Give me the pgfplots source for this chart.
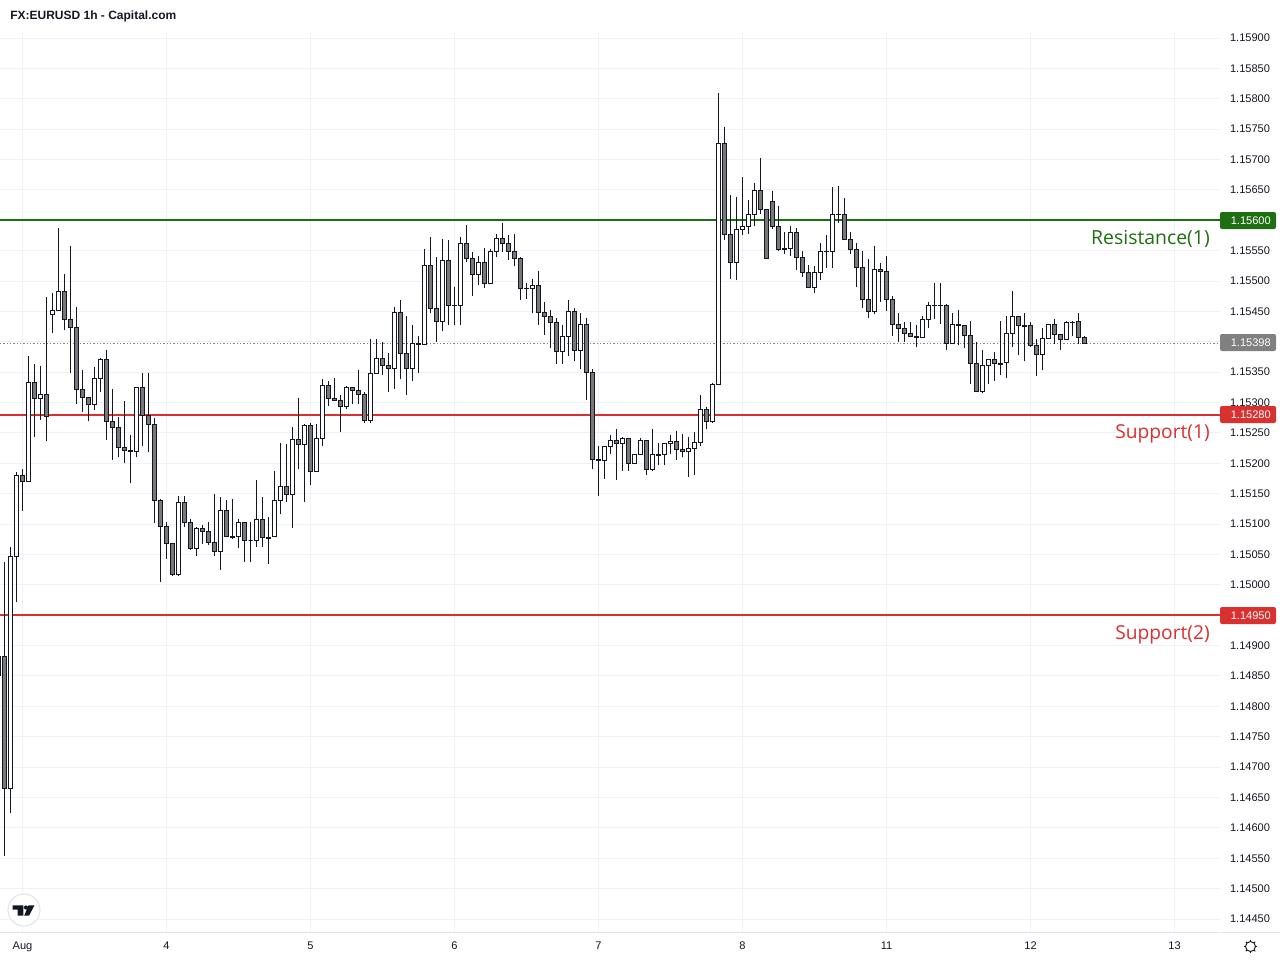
\documentclass[border=0pt]{standalone}
\usepackage{fontspec}
\setmainfont{Liberation Sans}
\newfontfamily\labelfont{Open Sans}
\usepackage{pgfplots}
\usepackage{pgfplotstable}
\pgfplotsset{compat=1.18}
\definecolor{ink}{HTML}{131722}
\definecolor{candleDown}{HTML}{787878}
\definecolor{gridc}{HTML}{F0F1F4}
\definecolor{spine}{HTML}{E0E3EB}
\definecolor{resG}{HTML}{1E6F12}
\definecolor{supR}{HTML}{D93030}
\definecolor{lastG}{HTML}{808080}
\pgfplotstableread{
x o h l c
-1 1.14882 1.14882 1.14851 1.14851
0 1.14882 1.15037 1.14553 1.14665
1 1.14665 1.15063 1.14624 1.15047
2 1.15047 1.15185 1.14971 1.15180
3 1.15180 1.15190 1.15122 1.15170
4 1.15170 1.15376 1.15170 1.15333
5 1.15333 1.15363 1.15243 1.15307
6 1.15307 1.15361 1.15272 1.15313
7 1.15313 1.15473 1.15236 1.15277
8 1.15445 1.15481 1.15414 1.15452
9 1.15452 1.15588 1.15452 1.15483
10 1.15483 1.15511 1.15420 1.15437
11 1.15437 1.15558 1.15349 1.15423
12 1.15423 1.15458 1.15298 1.15322
13 1.15322 1.15353 1.15284 1.15308
14 1.15308 1.15308 1.15269 1.15297
15 1.15297 1.15359 1.15288 1.15340
16 1.15340 1.15374 1.15317 1.15371
17 1.15371 1.15387 1.15238 1.15269
18 1.15269 1.15322 1.15206 1.15259
19 1.15259 1.15277 1.15210 1.15226
20 1.15226 1.15302 1.15200 1.15221
21 1.15221 1.15246 1.15167 1.15219
22 1.15219 1.15325 1.15210 1.15325
23 1.15325 1.15349 1.15228 1.15279
24 1.15279 1.15349 1.15218 1.15264
25 1.15264 1.15274 1.15101 1.15139
26 1.15139 1.15142 1.15004 1.15096
27 1.15096 1.15104 1.15043 1.15068
28 1.15068 1.15068 1.15015 1.15017
29 1.15017 1.15147 1.15015 1.15136
30 1.15136 1.15147 1.15096 1.15103
31 1.15103 1.15108 1.15058 1.15060
32 1.15060 1.15096 1.15048 1.15093
33 1.15093 1.15099 1.15068 1.15088
34 1.15088 1.15103 1.15066 1.15070
35 1.15070 1.15149 1.15048 1.15055
36 1.15055 1.15144 1.15024 1.15122
37 1.15122 1.15139 1.15078 1.15079
38 1.15079 1.15141 1.15076 1.15078
39 1.15079 1.15109 1.15060 1.15103
40 1.15103 1.15104 1.15037 1.15073
41 1.15073 1.15103 1.15037 1.15073
42 1.15073 1.15172 1.15063 1.15108
43 1.15108 1.15144 1.15063 1.15078
44 1.15078 1.15111 1.15034 1.15077
45 1.15079 1.15187 1.15078 1.15139
46 1.15139 1.15233 1.15116 1.15162
47 1.15162 1.15231 1.15136 1.15149
48 1.15149 1.15259 1.15093 1.15239
49 1.15239 1.15307 1.15190 1.15231
50 1.15231 1.15264 1.15136 1.15262
51 1.15262 1.15266 1.15165 1.15187
52 1.15187 1.15264 1.15187 1.15241
53 1.15241 1.15338 1.15228 1.15328
54 1.15328 1.15335 1.15295 1.15307
55 1.15307 1.15340 1.15303 1.15303
56 1.15303 1.15312 1.15251 1.15293
57 1.15293 1.15328 1.15290 1.15325
58 1.15325 1.15325 1.15298 1.15320
59 1.15320 1.15354 1.15297 1.15313
60 1.15313 1.15317 1.15267 1.15270
61 1.15270 1.15404 1.15266 1.15348
62 1.15348 1.15404 1.15348 1.15372
63 1.15372 1.15400 1.15346 1.15361
64 1.15361 1.15381 1.15317 1.15356
65 1.15356 1.15458 1.15323 1.15448
66 1.15448 1.15468 1.15338 1.15381
67 1.15381 1.15443 1.15312 1.15356
68 1.15356 1.15427 1.15335 1.15397
69 1.15397 1.15409 1.15349 1.15396
70 1.15396 1.15552 1.15396 1.15526
71 1.15526 1.15572 1.15447 1.15455
72 1.15455 1.15539 1.15400 1.15433
73 1.15433 1.15570 1.15417 1.15534
74 1.15534 1.15567 1.15427 1.15460
75 1.15460 1.15491 1.15427 1.15459
76 1.15460 1.15572 1.15427 1.15562
77 1.15562 1.15593 1.15532 1.15537
78 1.15537 1.15547 1.15475 1.15511
79 1.15511 1.15542 1.15494 1.15530
80 1.15530 1.15554 1.15488 1.15496
81 1.15496 1.15552 1.15496 1.15549
82 1.15549 1.15577 1.15540 1.15570
83 1.15570 1.15596 1.15547 1.15562
84 1.15562 1.15575 1.15535 1.15549
85 1.15549 1.15578 1.15524 1.15537
86 1.15537 1.15539 1.15468 1.15488
87 1.15488 1.15496 1.15470 1.15487
88 1.15488 1.15503 1.15447 1.15493
89 1.15493 1.15516 1.15428 1.15448
90 1.15448 1.15466 1.15412 1.15442
91 1.15442 1.15452 1.15389 1.15432
92 1.15432 1.15440 1.15364 1.15384
93 1.15384 1.15427 1.15364 1.15409
94 1.15409 1.15468 1.15377 1.15450
95 1.15450 1.15455 1.15368 1.15386
96 1.15386 1.15447 1.15356 1.15428
97 1.15428 1.15440 1.15305 1.15349
98 1.15349 1.15356 1.15191 1.15206
99 1.15206 1.15228 1.15147 1.15205
100 1.15205 1.15228 1.15175 1.15228
101 1.15228 1.15247 1.15216 1.15238
102 1.15238 1.15257 1.15173 1.15233
103 1.15233 1.15244 1.15187 1.15241
104 1.15241 1.15241 1.15187 1.15200
105 1.15200 1.15214 1.15200 1.15214
106 1.15214 1.15241 1.15214 1.15238
107 1.15238 1.15239 1.15180 1.15190
108 1.15190 1.15256 1.15187 1.15214
109 1.15214 1.15233 1.15198 1.15213
110 1.15214 1.15233 1.15198 1.15233
111 1.15233 1.15246 1.15216 1.15236
112 1.15236 1.15254 1.15206 1.15223
113 1.15223 1.15249 1.15210 1.15219
114 1.15219 1.15243 1.15177 1.15224
115 1.15224 1.15252 1.15180 1.15234
116 1.15234 1.15312 1.15228 1.15288
117 1.15288 1.15292 1.15256 1.15269
118 1.15269 1.15333 1.15266 1.15330
119 1.15330 1.15809 1.15330 1.15726
120 1.15726 1.15753 1.15567 1.15577
121 1.15577 1.15641 1.15504 1.15530
122 1.15530 1.15638 1.15501 1.15585
123 1.15585 1.15672 1.15575 1.15590
124 1.15590 1.15634 1.15577 1.15610
125 1.15610 1.15661 1.15591 1.15649
126 1.15649 1.15702 1.15611 1.15618
127 1.15618 1.15618 1.15537 1.15537
128 1.15631 1.15649 1.15586 1.15590
129 1.15590 1.15623 1.15550 1.15552
130 1.15554 1.15581 1.15544 1.15552
131 1.15554 1.15590 1.15542 1.15580
132 1.15580 1.15588 1.15519 1.15539
133 1.15539 1.15549 1.15507 1.15514
134 1.15514 1.15527 1.15489 1.15489
135 1.15489 1.15524 1.15481 1.15514
136 1.15514 1.15562 1.15501 1.15549
137 1.15549 1.15575 1.15522 1.15548
138 1.15549 1.15654 1.15521 1.15610
139 1.15610 1.15656 1.15596 1.15609
140 1.15610 1.15636 1.15568 1.15568
141 1.15568 1.15580 1.15545 1.15552
142 1.15552 1.15563 1.15491 1.15522
143 1.15522 1.15550 1.15455 1.15470
144 1.15470 1.15537 1.15440 1.15450
145 1.15450 1.15557 1.15445 1.15519
146 1.15519 1.15530 1.15465 1.15516
147 1.15516 1.15542 1.15450 1.15470
148 1.15470 1.15475 1.15410 1.15428
149 1.15428 1.15447 1.15400 1.15422
150 1.15422 1.15432 1.15400 1.15414
151 1.15414 1.15432 1.15409 1.15409
152 1.15409 1.15427 1.15391 1.15407
153 1.15407 1.15442 1.15407 1.15437
154 1.15437 1.15465 1.15422 1.15460
155 1.15460 1.15496 1.15437 1.15459
156 1.15460 1.15496 1.15430 1.15459
157 1.15460 1.15463 1.15387 1.15397
158 1.15397 1.15448 1.15397 1.15428
159 1.15428 1.15452 1.15394 1.15427
160 1.15427 1.15428 1.15389 1.15410
161 1.15410 1.15435 1.15330 1.15364
162 1.15364 1.15400 1.15318 1.15318
163 1.15318 1.15386 1.15315 1.15361
164 1.15361 1.15372 1.15331 1.15371
165 1.15371 1.15384 1.15336 1.15364
166 1.15364 1.15435 1.15346 1.15363
167 1.15366 1.15442 1.15340 1.15414
168 1.15414 1.15484 1.15392 1.15442
169 1.15442 1.15442 1.15379 1.15427
170 1.15427 1.15447 1.15368 1.15426
171 1.15427 1.15432 1.15392 1.15394
172 1.15394 1.15405 1.15344 1.15379
173 1.15379 1.15422 1.15354 1.15405
174 1.15405 1.15428 1.15405 1.15428
175 1.15428 1.15437 1.15396 1.15412
176 1.15412 1.15412 1.15387 1.15404
177 1.15404 1.15435 1.15404 1.15432
178 1.15432 1.15435 1.15410 1.15431
179 1.15433 1.15447 1.15397 1.15407
180 1.15407 1.15409 1.15397 1.15398
}\ohlc
\begin{document}
\begin{tikzpicture}[x=0.75pt,y=-0.75pt]
\useasboundingbox (0,0) rectangle (1280,960);
\coordinate (AO) at (0,932);
\begin{axis}[
  at={(AO)}, anchor=south west,
  scale only axis, width=915pt, height=675pt,
  xmin=-0.75, xmax=202.5833,
  ymin=1.144286, ymax=1.159099,
  axis x line*=bottom, axis y line*=right,
  x axis line style={draw=spine, line width=0.75pt},
  y axis line style={draw=none},
  xtick={3,27,51,75,99,123,147,171,195},
  xticklabels={Aug,4,5,6,7,8,11,12,13},
  ytick={1.1445,1.145,1.1455,1.146,1.1465,1.147,1.1475,1.148,1.1485,1.149,1.15,1.1505,1.151,1.1515,1.152,1.1525,1.153,1.1535,1.1545,1.155,1.1555,1.1565,1.157,1.1575,1.158,1.1585,1.159},
  extra y ticks={1.1495,1.154,1.156},
  extra y tick labels={},
  scaled y ticks=false,
  major tick length=0pt,
  tick style={draw=none},
  grid=major, major grid style={draw=gridc, line width=0.75pt},
  extra tick style={grid=major, major grid style={draw=gridc, line width=0.75pt}},
  /pgf/number format/fixed,
  /pgf/number format/fixed zerofill,
  /pgf/number format/precision=5,
  /pgf/number format/assume math mode=true,
  /pgf/number format/1000 sep={},
  ticklabel style={font=\fontsize{8.3}{10}\selectfont, text=ink},
  yticklabel style={anchor=west, xshift=4pt},
  xticklabel style={yshift=-3.5pt},
]
\addplot[draw=lastG, line width=0.75pt, dash pattern=on 1pt off 1.5pt, mark=none] coordinates {(-0.75,1.15398)(202.5833,1.15398)};
\addplot[draw=resG, line width=1.35pt, mark=none] coordinates {(-0.75,1.156)(202.5833,1.156)};
\addplot[draw=supR, line width=1.35pt, mark=none] coordinates {(-0.75,1.1528)(202.5833,1.1528)};
\addplot[draw=supR, line width=1.35pt, mark=none] coordinates {(-0.75,1.1495)(202.5833,1.1495)};
\pgfplotsinvokeforeach{0,...,181}{
  \pgfplotstablegetelem{#1}{x}\of\ohlc \let\cx\pgfplotsretval
  \pgfplotstablegetelem{#1}{o}\of\ohlc \let\co\pgfplotsretval
  \pgfplotstablegetelem{#1}{h}\of\ohlc \let\ch\pgfplotsretval
  \pgfplotstablegetelem{#1}{l}\of\ohlc \let\cl\pgfplotsretval
  \pgfplotstablegetelem{#1}{c}\of\ohlc \let\cc\pgfplotsretval
  \pgfmathsetmacro\xa{\cx-0.3333}
  \pgfmathsetmacro\xb{\cx+0.3333}
  \pgfmathparse{\cc>\co?1:0}
  \ifdim\pgfmathresult pt>0.5pt \def\bodycol{white}\else\def\bodycol{candleDown}\fi
  \edef\tmp{\noexpand\addplot[draw=ink, line width=0.75pt, mark=none] coordinates {(\cx,\cl)(\cx,\ch)};
    \noexpand\addplot[draw=ink, fill=\bodycol, line width=0.75pt, mark=none] coordinates {(\xa,\co)(\xb,\co)(\xb,\cc)(\xa,\cc)} -- cycle;}
  \tmp
}
\end{axis}
\draw[spine, line width=0.75pt] (1221,932) -- (1280,932);
% price tags
\foreach \yy/\tagc/\tagt in {220.5/resG/1.15600, 414.5/supR/1.15280, 615.5/supR/1.14950, 342.5/lastG/1.15398}{
  \fill[\tagc, rounded corners=1.5pt] (1220,\yy-8.5) rectangle (1276,\yy+8.5);
  \node[anchor=west, inner sep=0pt, text=white, font=\fontsize{8.3}{10}\selectfont] at (1230.5,\yy) {\tagt};
}
% labels
\node[anchor=east, inner sep=0pt, text=resG, font=\labelfont\fontsize{14.55}{17}\selectfont] at (1210,239) {Resistance(1)};
\node[anchor=east, inner sep=0pt, text=supR, font=\labelfont\fontsize{14.4}{17}\selectfont] at (1210,434) {Support(1)};
\node[anchor=east, inner sep=0pt, text=supR, font=\labelfont\fontsize{14.4}{17}\selectfont] at (1210,635) {Support(2)};
\node[anchor=west, inner sep=0pt, text=ink, font=\bfseries\fontsize{9}{10}\selectfont] at (10,16.5) {FX:EURUSD 1h - Capital.com};
% logo
\filldraw[fill=white, draw=spine, line width=0.75pt] (24,910) circle [radius=16];
\fill[ink] (12.7,905.3) -- (23.3,905.3) -- (23.3,915.7) -- (17.5,915.7) -- (17.5,909.5) -- (12.7,909.5) -- cycle;
\fill[ink] (26,907.5) circle [radius=2.1];
\fill[ink] (28.5,905.3) -- (34.5,905.3) -- (29,915.7) -- (24.2,915.7) -- cycle;
% settings gear
\draw[ink, line width=0.7pt] (1250.5,946.5) circle [radius=5];
\foreach \a in {0,45,...,315}{
  \draw[ink, line width=0.7pt] (1250.5,946.5) ++(\a:5) -- ++(\a:1.7);
}
\end{tikzpicture}
\end{document}
